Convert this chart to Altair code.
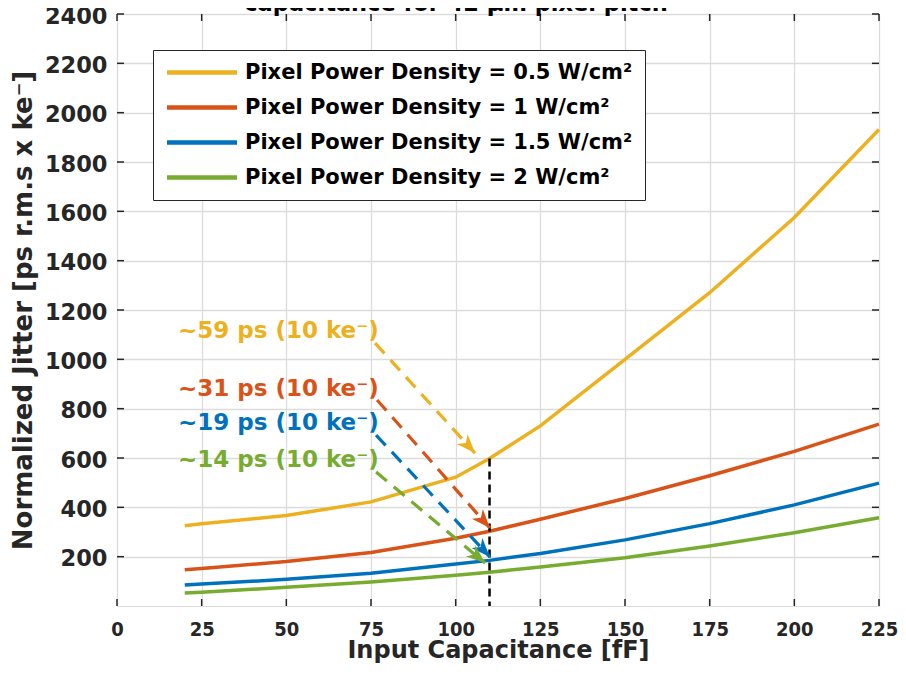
import altair as alt
import pandas as pd

cap = [20, 25, 50, 75, 100, 110, 125, 150, 175, 200, 225]
jit_05 = [325, 333, 367, 422, 522, 598, 730, 1000, 1270, 1575, 1932]
jit_1 = [147, 152, 180, 217, 275, 303, 352, 436, 528, 627, 737]
jit_15 = [85, 89, 108, 133, 170, 185, 213, 268, 334, 410, 498]
jit_2 = [53, 56, 76, 97, 125, 137, 158, 196, 243, 297, 358]

series = ["Pixel Power Density = 0.5 W/cm²", "Pixel Power Density = 1 W/cm²",
          "Pixel Power Density = 1.5 W/cm²", "Pixel Power Density = 2 W/cm²"]
colors = ["#EDB120", "#D95319", "#0072BD", "#77AC30"]

ann_text = ["~59 ps (10 ke⁻)", "~31 ps (10 ke⁻)", "~19 ps (10 ke⁻)", "~14 ps (10 ke⁻)"]
ann_x = [18, 18, 18, 18]
ann_y = [1115, 880, 742, 592]
arr_x0 = [76.2, 76.8, 76.5, 76.5]
arr_y0 = [1066, 835, 693, 543]
arr_x1 = [105.7, 110.1, 110.1, 108.7]
arr_y1 = [620, 316, 199, 174]
arr_angle = [137.7, 138.6, 136.9, 129.9]

mark_x = [110]
mark_top = [598]

x_ticks = list(range(0, 226, 25))
y_ticks = list(range(200, 2401, 200))

rows = []
for s, vals in zip(series, [jit_05, jit_1, jit_15, jit_2]):
    for c, v in zip(cap, vals):
        rows.append({"cap": c, "jit": v, "series": s})
df = pd.DataFrame(rows)
ann = pd.DataFrame({"x": ann_x, "y": ann_y, "text": ann_text, "color": colors,
                    "x0": arr_x0, "y0": arr_y0, "x1": arr_x1, "y1": arr_y1, "angle": arr_angle})
vline = pd.DataFrame({"x": mark_x, "top": mark_top, "bottom": [0]})
title_df = pd.DataFrame({"t": ["capacitance for 42 μm pixel pitch"]})
xt_df = pd.DataFrame({"v": x_ticks})
yt_df = pd.DataFrame({"v": y_ticks})

W, H = 762, 592
TK = 7
xscale = alt.Scale(domain=[0, 225], nice=False, zero=False)
yscale = alt.Scale(domain=[0, 2400], nice=False)

xax = alt.Axis(values=x_ticks, title="Input Capacitance [fF]", labelFlush=False,
               labelFont="DejaVu Sans Condensed", labelFontWeight="bold", labelFontSize=20,
               labelColor="#262626", labelPadding=13, tickSize=0, domain=False,
               titleFont="DejaVu Sans", titleFontWeight="bold", titleFontSize=24,
               titleColor="#262626", titlePadding=-1, gridColor="#dcdcdc", gridWidth=1.3)
yax = alt.Axis(values=y_ticks, title="Normalized Jitter [ps r.m.s x ke⁻]", labelFlush=False,
               format="d", labelOffset=2,
               labelFont="DejaVu Sans", labelFontWeight="bold", labelFontSize=22.5,
               labelColor="#262626", labelPadding=10, tickSize=0, domain=False,
               titleFont="DejaVu Sans", titleFontWeight="bold", titleFontSize=26,
               titleColor="#262626", titlePadding=8, gridColor="#dcdcdc", gridWidth=1.3)

lines = alt.Chart(df).mark_line(strokeWidth=3.5).encode(
    x=alt.X("cap:Q", scale=xscale, axis=xax),
    y=alt.Y("jit:Q", scale=yscale, axis=yax),
    color=alt.Color("series:N", scale=alt.Scale(domain=series, range=colors),
                    legend=alt.Legend(orient="none", legendX=36, legendY=36, title=None,
                                      labelFont="DejaVu Sans", labelFontWeight="bold",
                                      labelFontSize=21, labelColor="black", labelLimit=0,
                                      symbolType="M-1.417,0H10.25", symbolStrokeWidth=4.5,
                                      symbolSize=144, labelOffset=59, rowPadding=13,
                                      padding=12, fillColor="white", strokeColor="#262626")),
    order="cap:Q",
)

xt_bottom = alt.Chart(xt_df).mark_rule(color="#262626", strokeWidth=1.5).encode(
    x="v:Q", y=alt.value(H), y2=alt.value(H - TK))
xt_top = alt.Chart(xt_df).mark_rule(color="#262626", strokeWidth=1.5).encode(
    x="v:Q", y=alt.value(0), y2=alt.value(TK))
yt_left = alt.Chart(yt_df).mark_rule(color="#262626", strokeWidth=1.5).encode(
    y="v:Q", x=alt.value(0), x2=alt.value(TK))
yt_right = alt.Chart(yt_df).mark_rule(color="#262626", strokeWidth=1.5).encode(
    y="v:Q", x=alt.value(W), x2=alt.value(W - TK))

vl = alt.Chart(vline).mark_rule(color="black", strokeWidth=2.5, strokeDash=[8, 5]).encode(
    x="x:Q", y="top:Q", y2="bottom:Q")

arrows = alt.Chart(ann).mark_rule(strokeWidth=3.2, strokeDash=[14, 9]).encode(
    x="x0:Q", y="y0:Q", x2="x1:Q", y2="y1:Q",
    color=alt.Color("color:N", scale=None))

heads = alt.Chart(ann).mark_point(shape="M0,0L0.62,1.6L0,1.15L-0.62,1.6Z", size=560,
                                  filled=True, opacity=1).encode(
    x="x1:Q", y="y1:Q", angle=alt.Angle("angle:Q", scale=None),
    color=alt.Color("color:N", scale=None))

labels = alt.Chart(ann).mark_text(align="left", baseline="middle", font="DejaVu Sans",
                                  fontWeight="bold", fontSize=23).encode(
    x="x:Q", y="y:Q", text="text:N", color=alt.Color("color:N", scale=None))

title = alt.Chart(title_df).mark_text(font="DejaVu Sans", fontWeight="bold", fontSize=22.5,
                                      color="black", baseline="alphabetic").encode(
    x=alt.value(339), y=alt.value(-3), text="t:N")

chart = alt.layer(lines, xt_bottom, xt_top, yt_left, yt_right, vl, arrows, heads, labels,
                  title).properties(
    width=W, height=H,
    autosize=alt.AutoSizeParams(type="none"),
    padding={"left": 109, "top": 6, "right": 19, "bottom": 57},
).configure_view(stroke="#262626", strokeWidth=1.5).configure(background="white")

chart.save("out.html", embed_options={"renderer": "svg", "actions": False})
